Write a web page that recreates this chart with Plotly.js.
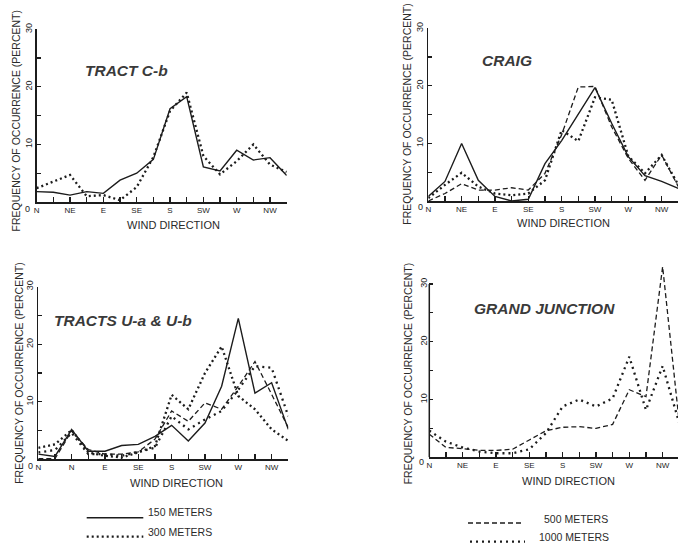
<!DOCTYPE html>
<html><head><meta charset="utf-8">
<script src="https://cdn.plot.ly/plotly-3.0.1.min.js"></script>
<style>html,body{margin:0;padding:0;background:#fff}#chart{width:678px;height:544px}</style>
</head><body><div id="chart"></div>
<script>
// ---- data ----
const directions = ['N','NNE','NE','ENE','E','ESE','SE','SSE','S','SSW','SW','WSW','W','WNW','NW','NNW'];
const tickLabels  = ['N','','NE','','E','','SE','','S','','SW','','W','','NW',''];
const tickLabelsU = ['N','','N','','E','','SE','','S','','SW','','W','','NW',''];
const yTickVals = [0,5,10,15,20,25,30];
const yTickText = ['','','10','','20','','30'];

const panelTitles = ['TRACT C-b','CRAIG','TRACTS U-a & U-b','GRAND JUNCTION'];
const xTitle = 'WIND DIRECTION';
const yTitle = 'FREQUENCY OF OCCURRENCE (PERCENT)';
const legendNames = ['150 METERS','300 METERS','500 METERS','1000 METERS'];

// TRACT C-b
const tractCb150 = [1.8, 1.7, 1.2, 1.8, 1.5, 3.8, 5.0, 7.4, 16.2, 18.3, 6.1, 5.4, 9.0, 7.3, 7.7, 4.6];
const tractCb300 = [2.4, 3.5, 4.7, 1.0, 1.2, 0.3, 2.6, 7.8, 15.8, 19.0, 8.0, 4.8, 7.1, 10.0, 6.5, 5.2];
// CRAIG
const craig150 = [0.8, 3.4, 10.0, 3.6, 0.8, 0.0, 0.3, 6.5, 10.5, 15.2, 19.7, 13.5, 7.7, 4.4, 3.4, 2.2];
const craig300 = [0.5, 2.8, 4.9, 2.5, 1.3, 1.0, 1.3, 3.6, 12.3, 10.4, 18.0, 17.6, 7.8, 4.8, 8.0, 2.8];
const craig500 = [0.0, 1.3, 3.0, 1.9, 1.9, 2.3, 1.9, 4.8, 11.5, 19.8, 19.9, 12.9, 7.4, 3.6, 8.0, 2.5];
// TRACTS U-a & U-b
const tractU150  = [0.9, 0.5, 5.2, 1.4, 1.4, 2.4, 2.6, 4.0, 5.9, 3.2, 6.3, 12.7, 24.5, 11.5, 13.3, 5.2];
const tractU300  = [2.0, 2.6, 5.1, 1.2, 0.6, 0.3, 1.2, 2.3, 11.2, 8.7, 15.0, 19.6, 11.0, 8.7, 5.2, 3.2];
const tractU500  = [0.1, 0.1, 4.9, 1.7, 0.9, 0.9, 1.3, 3.5, 8.4, 6.6, 9.8, 8.7, 12.7, 17.0, 11.3, 5.5];
const tractU1000 = [1.2, 1.6, 4.6, 0.9, 0.9, 0.6, 1.3, 2.0, 7.5, 5.2, 6.9, 8.4, 12.1, 16.2, 15.9, 7.5];
// GRAND JUNCTION
const gj500  = [4.0, 1.7, 1.5, 1.2, 1.2, 1.4, 3.0, 4.6, 5.2, 5.3, 5.0, 5.7, 11.7, 10.5, 33.0, 5.9];
const gj1000 = [4.6, 2.7, 1.7, 1.0, 0.7, 0.7, 1.4, 4.2, 8.8, 10.0, 8.8, 10.2, 17.4, 8.2, 15.8, 5.9];

// ---- styles ----
const F = 'Liberation Sans, Arial, Helvetica, sans-serif';
const INK = '#1c1c1c';
const styles = {
  '150 METERS':  {color: INK, width: 1.4, dash: 'solid'},
  '300 METERS':  {color: INK, width: 2.3, dash: '2px,3px'},
  '500 METERS':  {color: INK, width: 1.3, dash: '5px,3px'},
  '1000 METERS': {color: INK, width: 2.3, dash: '2px,4px'}
};
const W = 678, H = 544;
const px = v => v / W, py = v => (H - v) / H;

function trace(ys, name, ax) {
  return {x: directions, y: ys, name: name, mode: 'lines', line: Object.assign({}, styles[name]),
          xaxis: 'x' + ax, yaxis: 'y' + ax, showlegend: false, hoverinfo: 'skip'};
}
const data = [
  trace(tractCb150, '150 METERS', ''), trace(tractCb300, '300 METERS', ''),
  trace(craig150, '150 METERS', '2'), trace(craig300, '300 METERS', '2'), trace(craig500, '500 METERS', '2'),
  trace(tractU150, '150 METERS', '3'), trace(tractU300, '300 METERS', '3'),
  trace(tractU500, '500 METERS', '3'), trace(tractU1000, '1000 METERS', '3'),
  trace(gj500, '500 METERS', '4'), trace(gj1000, '1000 METERS', '4')
];

function xAxis(domain, range, labels, anchor) {
  return {domain: domain, range: range, type: 'category', categoryorder: 'array', categoryarray: directions,
    tickmode: 'array', tickvals: directions, ticktext: labels, ticks: 'inside', ticklen: 5, tickwidth: 1.2,
    tickcolor: INK, showline: true, linecolor: INK, linewidth: 1.5, showgrid: false, zeroline: false,
    tickfont: {family: F, size: 8, color: INK}, anchor: anchor, fixedrange: true};
}
function yAxis(domain, range, anchor, line) {
  return {domain: domain, range: range, tickmode: 'array', tickvals: yTickVals, ticktext: yTickText,
    tickangle: -90, ticks: 'inside', ticklen: 4, tickwidth: 1.2, tickcolor: INK,
    showline: line, linecolor: INK, linewidth: 1.5, showgrid: false, zeroline: false,
    tickfont: {family: F, size: 9, color: INK}, anchor: anchor, fixedrange: true};
}

const layout = {
  width: W, height: H, margin: {l: 0, r: 0, t: 0, b: 0},
  paper_bgcolor: '#fff', plot_bgcolor: 'rgba(0,0,0,0)', showlegend: false,
  xaxis:  xAxis([px(36.7), px(286.7)], [0, 15], tickLabels, 'y'),
  yaxis:  yAxis([py(202), py(29.3)], [0, 30], 'x', true),
  xaxis2: xAxis([px(428.3), 1], [0, (W - 428.3) / 16.667], tickLabels, 'y2'),
  yaxis2: yAxis([py(201), py(28.3)], [0, 30], 'x2', true),
  xaxis3: xAxis([px(38.3), px(288.3)], [0, 15], tickLabelsU, 'y3'),
  yaxis3: yAxis([py(459.3), py(286.7)], [0, 30], 'x3', true),
  xaxis4: xAxis([px(429.3), 1], [0, (W - 429.3) / 16.667], tickLabels, 'y4'),
  yaxis4: yAxis([py(457.3), py(457.3 - 34 * (173.3 / 30))], [0, 34], 'x4', false),
  shapes: [
    {type: 'line', xref: 'x4 domain', yref: 'y4', x0: 0, x1: 0, y0: 0, y1: 30, line: {color: INK, width: 1.5}},
    // legend samples
    {type: 'line', xref: 'paper', yref: 'paper', x0: px(86.7), x1: px(143.3), y0: py(517.7), y1: py(517.7), line: styles['150 METERS']},
    {type: 'line', xref: 'paper', yref: 'paper', x0: px(86.7), x1: px(143.3), y0: py(536.7), y1: py(536.7), line: styles['300 METERS']},
    {type: 'line', xref: 'paper', yref: 'paper', x0: px(468), x1: px(523), y0: py(523), y1: py(523), line: styles['500 METERS']},
    {type: 'line', xref: 'paper', yref: 'paper', x0: px(470), x1: px(525), y0: py(541.7), y1: py(541.7), line: styles['1000 METERS']}
  ],
  annotations: []
};

const A = layout.annotations;
function txt(text, x, y, opts) {
  A.push(Object.assign({text: text, xref: 'paper', yref: 'paper', x: px(x), y: py(y), showarrow: false,
    xanchor: 'center', yanchor: 'middle', font: {family: F, size: 11, color: '#2a2a2a'}}, opts || {}));
}
const titleFont = {family: F, size: 15.5, color: '#3a3a3a'};
txt('<b><i>' + panelTitles[0] + '</i></b>', 126, 71, {font: titleFont});
txt('<b><i>' + panelTitles[1] + '</i></b>', 506.7, 60, {font: titleFont});
txt('<b><i>' + panelTitles[2] + '</i></b>', 122.7, 320, {font: titleFont});
txt('<b><i>' + panelTitles[3] + '</i></b>', 544.3, 308.3, {font: titleFont});

txt(xTitle, 173, 225); txt(xTitle, 563, 222.7); txt(xTitle, 176.7, 482.7); txt(xTitle, 568, 480.7);
const yFont = {family: F, size: 10.5, color: '#2a2a2a'};
txt(yTitle, 15, 121.5, {textangle: -90, font: yFont});
txt(yTitle, 406.7, 114, {textangle: -90, font: yFont});
txt(yTitle, 18.3, 373.5, {textangle: -90, font: yFont});
txt(yTitle, 408.3, 374, {textangle: -90, font: yFont});

// zero labels at each origin
const zf = {family: F, size: 9, color: INK};
[['', -13, -7], ['2', -11, -6], ['3', -11, -7], ['4', -11, -5]].forEach(([ax, xs, ys]) => {
  A.push({text: '0', xref: 'x' + ax + ' domain', yref: 'y' + ax, x: 0, y: 0, xshift: xs, yshift: ys,
          showarrow: false, font: zf, borderpad: 0});
});

// legend text
const lf = {family: F, size: 10.5, color: '#2a2a2a'};
txt(legendNames[0], 146, 512.3, {xanchor: 'left', font: lf});
txt(legendNames[1], 146, 531.7, {xanchor: 'left', font: lf});
txt(legendNames[2], 541.7, 519, {xanchor: 'left', font: lf});
txt(legendNames[3], 536.7, 537, {xanchor: 'left', font: lf});

Plotly.newPlot('chart', data, layout, {staticPlot: true, displayModeBar: false});
</script>
</body></html>
